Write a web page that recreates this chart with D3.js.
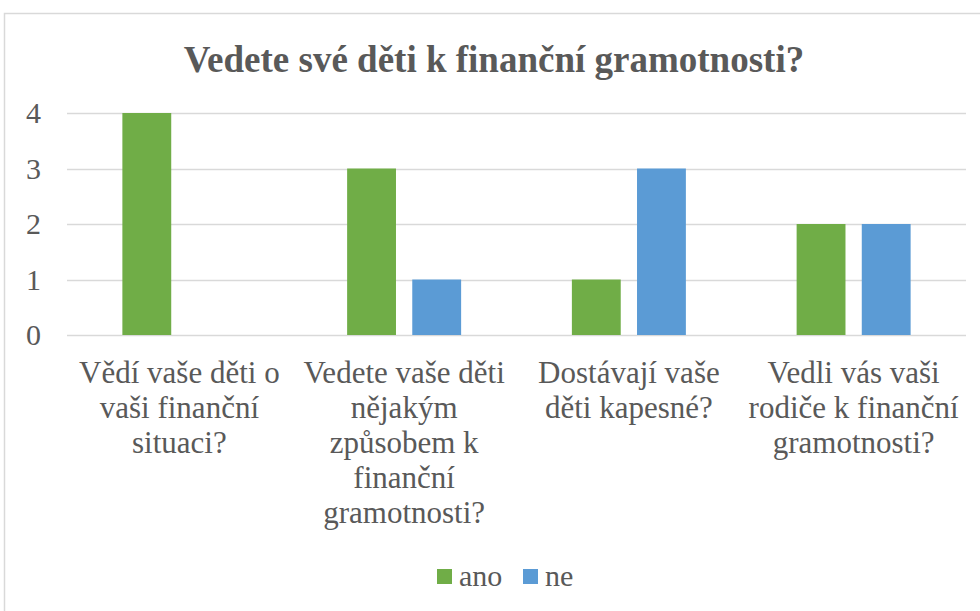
<!DOCTYPE html>
<html>
<head>
<meta charset="utf-8">
<script src="https://cdn.jsdelivr.net/npm/d3@7"></script>
<style>
body { margin: 0; background: #fff; }
</style>
</head>
<body>
<svg width="980" height="611"></svg>
<script>
// data
var categories = [
  ['Vědí vaše děti o', 'vaši finanční', 'situaci?'],
  ['Vedete vaše děti', 'nějakým', 'způsobem k', 'finanční', 'gramotnosti?'],
  ['Dostávají vaše', 'děti kapesné?'],
  ['Vedli vás vaši', 'rodiče k finanční', 'gramotnosti?']
];
var seriesNames = ['ano', 'ne'];
var ano = [4, 3, 1, 2];
var ne = [0, 1, 3, 2];
var yTicks = [0, 1, 2, 3, 4];
var colors = ['#70AD47', '#5B9BD5'];
var textColor = '#595959';
var font = '"Liberation Serif", "Times New Roman", Tinos, serif';

var svg = d3.select('svg');

// chart frame (only top and left edges show)
svg.append('path').attr('d', 'M 4.5 611 V 13.5 H 980')
  .attr('fill', 'none').attr('stroke', '#D9D9D9').attr('stroke-width', 1.5);

svg.append('text').attr('x', 494).attr('y', 72).attr('text-anchor', 'middle')
  .attr('fill', textColor).style('font-family', font)
  .style('font-size', '37px').style('font-weight', 'bold')
  .text('Vedete své děti k finanční gramotnosti?');

var x = d3.scaleBand().domain(d3.range(categories.length)).range([67, 966]);
var y = d3.scaleLinear().domain([0, 4]).range([335, 113]);
var xs = d3.scaleBand().domain([0, 1]).range([0, x.bandwidth()]).paddingInner(0.25).paddingOuter(0.85);

// gridlines
svg.append('g').selectAll('line').data(yTicks).join('line')
  .attr('x1', 67).attr('x2', 966)
  .attr('y1', function(d) { return Math.round(y(d)) + 0.5; })
  .attr('y2', function(d) { return Math.round(y(d)) + 0.5; })
  .attr('stroke', '#D9D9D9').attr('stroke-width', 1.5);

// y tick labels
svg.append('g').selectAll('text').data(yTicks).join('text')
  .attr('x', 41).attr('y', function(d) { return y(d) + 10; })
  .attr('text-anchor', 'end').attr('fill', textColor)
  .style('font-family', font).style('font-size', '30px')
  .text(function(d) { return d; });

// bars
var series = [ano, ne];
series.forEach(function(vals, s) {
  svg.append('g').selectAll('rect').data(vals).join('rect')
    .attr('x', function(d, i) { return x(i) + xs(s); })
    .attr('width', xs.bandwidth())
    .attr('y', function(d) { return y(d); })
    .attr('height', function(d) { return y(0) - y(d); })
    .attr('fill', colors[s]);
});

// category labels
var cat = svg.append('g').selectAll('text').data(categories).join('text')
  .attr('text-anchor', 'middle').attr('fill', textColor)
  .style('font-family', font).style('font-size', '31px')
  .attr('transform', function(d, i) { return 'translate(' + (x(i) + x.bandwidth() / 2) + ',383)'; });
cat.selectAll('tspan').data(function(d) { return d; }).join('tspan')
  .attr('x', 0).attr('y', function(d, j) { return j * 35; })
  .text(function(d) { return d; });

// legend
var legend = svg.append('g');
var lx = [437, 523];
seriesNames.forEach(function(n, s) {
  legend.append('rect').attr('x', lx[s]).attr('y', 569).attr('width', 15).attr('height', 15).attr('fill', colors[s]);
  legend.append('text').attr('x', lx[s] + 22).attr('y', 586).attr('fill', textColor)
    .style('font-family', font).style('font-size', '30px').text(n);
});
</script>
</body>
</html>
